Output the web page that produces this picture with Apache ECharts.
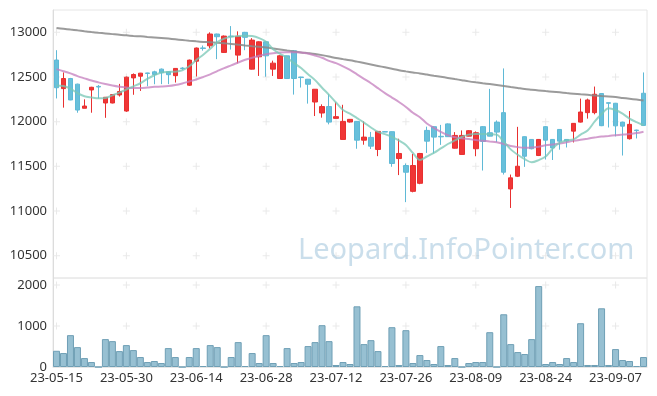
<!DOCTYPE html>
<html><head><meta charset="utf-8">
<script src="https://cdn.jsdelivr.net/npm/echarts@6.0.0/dist/echarts.min.js"></script>
<style>html,body{margin:0;padding:0;background:#fff}#c{width:657px;height:396px}</style>
</head><body><div id="c"></div>
<script>
const dates = ["23-05-15","23-05-16","23-05-17","23-05-18","23-05-19","23-05-22","23-05-23","23-05-24","23-05-25","23-05-26","23-05-30","23-05-31",
"23-06-01","23-06-02","23-06-05","23-06-07","23-06-08","23-06-09","23-06-12","23-06-13","23-06-14","23-06-15","23-06-16","23-06-19","23-06-20","23-06-21","23-06-22","23-06-23","23-06-26","23-06-27","23-06-28","23-06-29","23-06-30",
"23-07-03","23-07-04","23-07-05","23-07-06","23-07-07","23-07-10","23-07-11","23-07-12","23-07-13","23-07-14","23-07-17","23-07-18","23-07-19","23-07-20","23-07-21","23-07-24","23-07-25","23-07-26","23-07-27","23-07-28","23-07-31",
"23-08-01","23-08-02","23-08-03","23-08-04","23-08-07","23-08-08","23-08-09","23-08-10","23-08-11","23-08-14","23-08-16","23-08-17","23-08-18","23-08-21","23-08-22","23-08-23","23-08-24","23-08-25","23-08-28","23-08-29","23-08-30","23-08-31",
"23-09-01","23-09-04","23-09-05","23-09-06","23-09-07","23-09-08","23-09-11","23-09-12","23-09-13"];

const opens  = [12690,12370,12483,12420,12150,12355,12395,12209,12209,12299,12119,12490,12509,12545,12558,12588,12558,12515,12600,12408,12677,12825,12849,12981,12775,12958,12745,13000,12588,12726,12894,12588,12483,12737,12793,12500,12475,12220,12097,12169,12037,11801,11996,12003,11793,11824,11689,11888,11888,11587,11509,11220,11310,11902,11944,11836,11975,11703,11633,11838,11697,11944,11876,11995,12101,11247,11389,11832,11801,11621,11944,11801,11913,11801,11894,11995,12101,12101,12315,12212,12206,11995,11809,11906,12318];
const closes = [12380,12483,12243,12130,12175,12385,12388,12273,12303,12337,12498,12528,12543,12540,12528,12548,12526,12596,12595,12689,12824,12820,12981,12951,12958,12952,12955,12944,12913,12894,12737,12655,12737,12483,12483,12494,12419,12363,12169,11995,12056,12003,12026,11793,11827,11726,11891,11884,11532,11644,11434,11509,11644,11782,11827,11830,11832,11846,11846,11899,11876,11779,11838,11883,11434,11371,11501,11613,11697,11801,11793,11706,11782,11785,11981,12108,12243,12307,11955,12206,11953,11950,11970,11900,11958];
const lows   = [12260,12157,12240,12100,12150,12100,12260,12043,12205,12281,12110,12301,12344,12397,12419,12420,12420,12438,12580,12400,12506,12795,12820,12700,12770,12807,12652,12800,12585,12512,12503,12512,12480,12480,12303,12382,12202,12063,12045,11970,12035,11800,11990,11697,11742,11694,11614,11884,11495,11402,11099,11209,11300,11650,11644,11740,11830,11700,11630,11835,11613,11453,11835,11771,11408,11034,11380,11494,11690,11615,11576,11571,11686,11711,11767,11990,12034,12082,11950,11935,11835,11621,11800,11812,11955];
const highs  = [12800,12551,12490,12425,12250,12390,12410,12275,12306,12423,12505,12540,12546,12548,12570,12595,12565,12600,12610,12695,12830,12852,13000,12985,12965,13070,13011,13005,12935,12900,12900,12683,12745,12740,12800,12502,12478,12365,12194,12307,12217,12189,12030,12005,12003,11885,11895,11895,11890,11809,11532,11640,11650,11944,11950,11964,11980,11883,11902,11906,11891,11950,12367,12014,12596,11408,11942,11835,11805,11806,11950,11805,11915,11805,11985,12258,12258,12393,12320,12215,12210,12000,12119,11910,12551];
const volumes = [396,340,777,485,218,121,0,680,631,388,534,413,243,121,146,97,461,243,0,243,461,24,534,485,0,243,607,24,340,97,777,97,24,461,97,121,510,607,1020,631,
49,121,73,1480,558,655,388,24,971,49,898,97,291,170,73,510,49,218,0,97,121,121,849,0,1286,558,364,316,680,1974,73,121,73,218,121,1068,49,49,1432,49,437,170,146,24,243];
const maLong = [13048,13040,13031,13022,13012,13003,12995,12988,12980,12972,12966,12960,12955,12949,12943,12937,12930,12922,12914,12906,12899,12893,12888,12883,12877,12870,12862,12853,12845,12838,12831,12820,12808,12796,12785,12775,12767,12758,12745,12730,12712,12700,12688,12672,12656,12640,12624,12608,12592,12576,12563,12551,12540,12527,12514,12502,12490,12477,12464,12451,12440,12430,12421,12411,12400,12388,12377,12366,12358,12350,12342,12335,12328,12320,12313,12306,12300,12294,12288,12282,12275,12266,12257,12247,12236];
const maMid = [12588,12565,12540,12510,12485,12460,12440,12422,12405,12392,12383,12376,12376,12382,12390,12393,12398,12410,12428,12450,12472,12500,12530,12565,12600,12630,12662,12693,12715,12738,12756,12767,12775,12778,12778,12775,12762,12740,12715,12680,12655,12620,12580,12530,12480,12430,12375,12320,12270,12220,12165,12100,12050,11980,11930,11885,11850,11825,11815,11805,11795,11787,11778,11770,11750,11728,11715,11708,11710,11720,11735,11745,11755,11770,11785,11798,11810,11822,11833,11840,11848,11855,11862,11872,11888];
const maShort = [12405,12400,12370,12320,12285,12272,12262,12265,12295,12325,12360,12395,12430,12480,12520,12550,12557,12560,12575,12620,12690,12750,12815,12890,12930,12950,12960,12962,12958,12935,12895,12810,12760,12715,12655,12600,12530,12465,12380,12300,12215,12130,12090,12040,11990,11935,11885,11860,11830,11790,11740,11650,11570,11610,11650,11700,11750,11790,11830,11855,11862,11862,11860,11855,11775,11690,11630,11580,11545,11570,11610,11700,11765,11790,11802,11855,11900,12000,12085,12150,12130,12090,12035,11995,11960];
const priceTicks = [10500,11000,11500,12000,12500,13000];
const volumeTicks = [1000,2000];
const watermark = "Leopard.InfoPointer.com";

const candleData = opens.map((o,i)=>[o, closes[i], lows[i], highs[i]]);
const gridCols = dates.filter((d,i)=>i%10===0);
const crossTop = [], crossBot = [];
gridCols.forEach(d=>{ priceTicks.forEach(v=>crossTop.push([d,v])); volumeTicks.forEach(v=>crossBot.push([d,v])); });
const plus = 'path://M3,0h1v3h3v1h-3v3h-1v-3h-3v-1h3z';
const font = "'Noto Sans', sans-serif";

const chart = echarts.init(document.getElementById('c'), null, {renderer:'canvas'});
chart.setOption({
  animation:false,
  backgroundColor:'#fff',
  grid:[
    {left:53, right:10, top:10, height:268, show:true, borderColor:'#e6e6e6', borderWidth:1},
    {left:53, right:10, top:278, height:89, show:true, borderColor:'#e6e6e6', borderWidth:1}
  ],
  xAxis:[
    {type:'category', gridIndex:0, data:dates, boundaryGap:true, axisLine:{show:false}, axisTick:{show:false}, axisLabel:{show:false}, splitLine:{show:false}},
    {type:'category', gridIndex:1, data:dates, boundaryGap:true, axisLine:{show:true, lineStyle:{color:'#e6e6e6'}}, axisTick:{show:false},
     axisLabel:{interval:9, color:'#333', fontSize:13, fontFamily:font, margin:5}, splitLine:{show:false}}
  ],
  yAxis:[
    {type:'value', gridIndex:0, min:10250, max:13250, interval:250, axisLine:{show:true, lineStyle:{color:'#dcdcdc'}}, axisTick:{show:false}, splitLine:{show:false},
     axisLabel:{color:'#333', fontSize:13, fontFamily:font, margin:6, formatter:v=> (v%500===0 && v>=10500 && v<=13000) ? String(v) : ''}},
    {type:'value', gridIndex:1, min:0, max:2171, interval:1000, axisLine:{show:true, lineStyle:{color:'#dcdcdc'}}, axisTick:{show:false}, splitLine:{show:false},
     axisLabel:{color:'#333', fontSize:13, fontFamily:font, margin:6, showMaxLabel:false, formatter:v=> (v%1000===0) ? String(v) : ''}}
  ],
  graphic:[{type:'text', left:298, top:236, z:100, silent:true,
    style:{text:watermark, font:"29px 'Noto Sans', sans-serif", fill:'rgba(150,190,215,0.5)'}}],
  series:[
    {type:'scatter', xAxisIndex:0, yAxisIndex:0, data:crossTop, symbol:plus, symbolSize:7, itemStyle:{color:'#e4e4e4'}, silent:true, z:1},
    {type:'scatter', xAxisIndex:1, yAxisIndex:1, data:crossBot, symbol:plus, symbolSize:7, itemStyle:{color:'#e4e4e4'}, silent:true, z:1},
    {type:'candlestick', xAxisIndex:0, yAxisIndex:0, data:candleData, barWidth:5, z:2,
     itemStyle:{color:'#f03636', color0:'#68c0db', borderColor:'#e83030', borderColor0:'#5fb9d6', borderWidth:1}},
    {type:'line', xAxisIndex:0, yAxisIndex:0, data:maLong, smooth:0.3, showSymbol:false, z:3, lineStyle:{color:'#8a8a8a', width:2, opacity:0.85}},
    {type:'line', xAxisIndex:0, yAxisIndex:0, data:maMid, smooth:0.3, showSymbol:false, z:3, lineStyle:{color:'#c47ebd', width:2, opacity:0.75}},
    {type:'line', xAxisIndex:0, yAxisIndex:0, data:maShort, smooth:0.3, showSymbol:false, z:3, lineStyle:{color:'#78c7b5', width:2, opacity:0.75}},
    {type:'bar', xAxisIndex:1, yAxisIndex:1, data:volumes, barCategoryGap:'0%', z:2,
     itemStyle:{color:'rgba(140,185,205,0.9)', borderColor:'#6f9fb5', borderWidth:1}}
  ]
});
</script></body></html>
